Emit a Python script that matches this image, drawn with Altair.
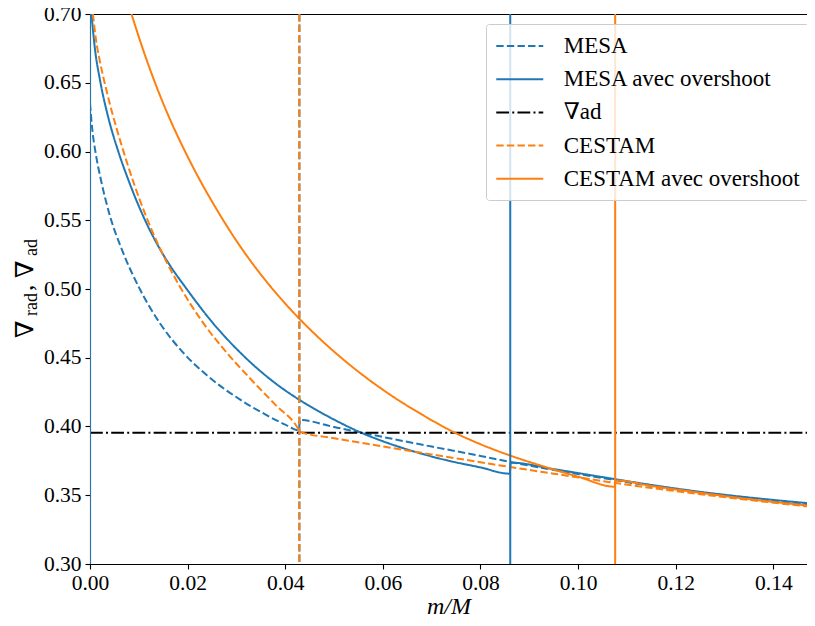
import altair as alt
import pandas as pd

SERIES = ["MESA", "MESA avec overshoot", "∇ad", "CESTAM", "CESTAM avec overshoot"]
COLORS = ["#1f77b4", "#1f77b4", "#000000", "#ff7f0e", "#ff7f0e"]
DASHES = [[7.4, 3.2], [1, 0], [12.8, 3.2, 2, 3.2], [7.4, 3.2], [1, 0]]

mesa_x = [0.0, 0.0005, 0.0012, 0.0022, 0.0041, 0.0065, 0.0102, 0.0145, 0.0189, 0.0240,
          0.0307, 0.0359, 0.0400, 0.0428, 0.0430, 0.050, 0.060, 0.070, 0.080, 0.0861,
          0.095, 0.105, 0.115, 0.125, 0.135, 0.1485]
mesa_y = [0.635, 0.615, 0.598, 0.580, 0.553, 0.529, 0.500, 0.4742, 0.4544, 0.4371,
          0.4197, 0.4088, 0.4014, 0.3972, 0.4047, 0.3996, 0.3924, 0.3854, 0.3786, 0.3742,
          0.3684, 0.3625, 0.3568, 0.3518, 0.3476, 0.3428]

mesa_os_x = [0.0003, 0.0010, 0.0021, 0.0038, 0.0058, 0.0080, 0.0109, 0.0137,
             0.0165, 0.0195, 0.0250, 0.0312, 0.0389, 0.0430, 0.0490, 0.0553, 0.0610, 0.0662,
             0.0730, 0.0799, 0.0860, 0.0862, 0.095, 0.105, 0.115, 0.125, 0.135, 0.1485]
mesa_os_y = [0.700, 0.675, 0.651, 0.624, 0.600, 0.578, 0.553, 0.533,
             0.5165, 0.5015, 0.4760, 0.4523, 0.4290, 0.4192, 0.4069, 0.3959, 0.3880, 0.3820,
             0.3755, 0.3703, 0.3657, 0.3737, 0.3690, 0.3632, 0.3575, 0.3525, 0.3484, 0.3438]

nabla_x = [0.0, 0.1485]
nabla_y = [0.3955, 0.3955]

cestam_x = [0.0006, 0.0012, 0.0020, 0.0031, 0.0045, 0.0065, 0.0090, 0.0115, 0.0137, 0.0180,
            0.0230, 0.0283, 0.0330, 0.0380, 0.0428, 0.0430, 0.050, 0.060, 0.070, 0.080,
            0.0861, 0.095, 0.1076, 0.115, 0.125, 0.135, 0.1485]
cestam_y = [0.700, 0.682, 0.666, 0.6484, 0.6288, 0.6042, 0.5767, 0.5527, 0.5344, 0.5043,
            0.4763, 0.4525, 0.4342, 0.4157, 0.3975, 0.3962, 0.3915, 0.3855, 0.3797, 0.3740,
            0.3705, 0.3657, 0.3590, 0.3553, 0.3508, 0.3466, 0.3413]

cestam_os_x = [0.0085, 0.0105, 0.0130, 0.0160, 0.0198, 0.0225, 0.0260, 0.0293, 0.0330, 0.0362,
               0.0400, 0.0430, 0.0461, 0.0510, 0.0567, 0.0620, 0.0680, 0.0748, 0.0800, 0.0860,
               0.0940, 0.1000, 0.1075, 0.1077, 0.115, 0.125, 0.135, 0.1485]
cestam_os_y = [0.700, 0.678, 0.653, 0.6266, 0.5977, 0.5793, 0.5576, 0.5388, 0.5199, 0.5052,
               0.4894, 0.4780, 0.4671, 0.4514, 0.4352, 0.4219, 0.4087, 0.3954, 0.3871, 0.3790,
               0.3698, 0.3635, 0.3562, 0.3608, 0.3568, 0.3518, 0.3472, 0.3420]

vline_series = ["MESA avec overshoot", "MESA", "MESA avec overshoot", "CESTAM", "CESTAM avec overshoot"]
vline_x = [0.0, 0.0429, 0.0861, 0.0429, 0.1076]

x_ticks = [0.00, 0.02, 0.04, 0.06, 0.08, 0.10, 0.12, 0.14]
y_ticks = [0.30, 0.35, 0.40, 0.45, 0.50, 0.55, 0.60, 0.65, 0.70]

rows = []
for name, xs_, ys_ in [(SERIES[0], mesa_x, mesa_y), (SERIES[1], mesa_os_x, mesa_os_y),
                       (SERIES[2], nabla_x, nabla_y), (SERIES[3], cestam_x, cestam_y),
                       (SERIES[4], cestam_os_x, cestam_os_y)]:
    for i, (a, b) in enumerate(zip(xs_, ys_)):
        rows.append({"series": name, "x": a, "y": b, "i": i})
df = pd.DataFrame(rows)
vdf = pd.DataFrame({"series": vline_series, "x": vline_x})

FONT = "Liberation Serif, DejaVu Serif"

color_scale = alt.Scale(domain=SERIES, range=COLORS)
dash_scale = alt.Scale(domain=SERIES, range=DASHES)
xs = alt.Scale(domain=[0, 0.1469], nice=False, zero=False)
ys = alt.Scale(domain=[0.30, 0.70], nice=False, zero=False)

legend = alt.Legend(title=None, orient="none", legendX=396, legendY=10,
                    symbolType="M-2,0H2", symbolSize=552, symbolStrokeWidth=2,
                    symbolOffset=11.75,
                    labelFont=FONT, labelFontSize=23, labelColor="black",
                    fillColor="rgba(255,255,255,0.8)", strokeColor="#cccccc",
                    cornerRadius=3, padding=9, rowPadding=8.2, labelOffset=31,
                    labelLimit=400)

xaxis = alt.Axis(values=x_ticks, format=".2f", title="m/M", titleFont=FONT,
                 titleFontStyle="italic", titleFontWeight="normal", titleFontSize=24,
                 titleColor="black", titlePadding=1,
                 labelFont=FONT, labelFontSize=21.5, labelColor="black", labelPadding=3,
                 labelFlush=False, labelOverlap=False,
                 tickColor="black", tickSize=5, tickWidth=1.1,
                 domainColor="black", domainWidth=1.1, grid=False)
topaxis = alt.Axis(orient="top", labels=False, ticks=False, title=None,
                   domainColor="black", domainWidth=1.1, grid=False)
yaxis = alt.Axis(values=y_ticks, format=".2f", title=None,
                 labelFont=FONT, labelFontSize=21.5, labelColor="black", labelPadding=4,
                 labelOverlap=False, labelFlush=False,
                 tickColor="black", tickSize=5, tickWidth=1.1, ticks=True,
                 domainColor="black", domainWidth=1.1, grid=False)

lines = alt.Chart(df).mark_line(strokeWidth=2, clip=True, interpolate="monotone").encode(
    x=alt.X("x:Q", scale=xs, axis=xaxis),
    y=alt.Y("y:Q", scale=ys, axis=yaxis),
    color=alt.Color("series:N", scale=color_scale, legend=legend),
    strokeDash=alt.StrokeDash("series:N", scale=dash_scale, legend=legend),
    order=alt.Order("i:Q"),
)

rules = alt.Chart(vdf).mark_rule(strokeWidth=2, clip=True).encode(
    x=alt.X("x:Q", scale=xs, axis=topaxis),
    color=alt.Color("series:N", scale=color_scale, legend=legend),
    strokeDash=alt.StrokeDash("series:N", scale=dash_scale, legend=legend),
)


def title_piece(t, px, py, size):
    return alt.Chart(pd.DataFrame({"t": [t]})).mark_text(
        angle=270, align="left", baseline="alphabetic", font=FONT,
        fontSize=size, color="black").encode(
        text="t:N", x=alt.value(px), y=alt.value(py))


ytitle = [
    title_piece("∇", -57, 324, 25),
    title_piece("rad", -53, 302, 18),
    title_piece(",", -57, 277, 25),
    title_piece("∇", -57, 264, 25),
    title_piece("ad", -53, 242, 18),
]

chart = alt.layer(lines, rules, *ytitle).resolve_axis(x="independent").properties(
    width=717, height=550,
    autosize=alt.AutoSizeParams(type="none"),
    padding={"left": 82, "top": 6, "right": 0, "bottom": 56},
).configure_view(stroke=None)

chart.save("out.html", embed_options={"renderer": "svg", "actions": False})
